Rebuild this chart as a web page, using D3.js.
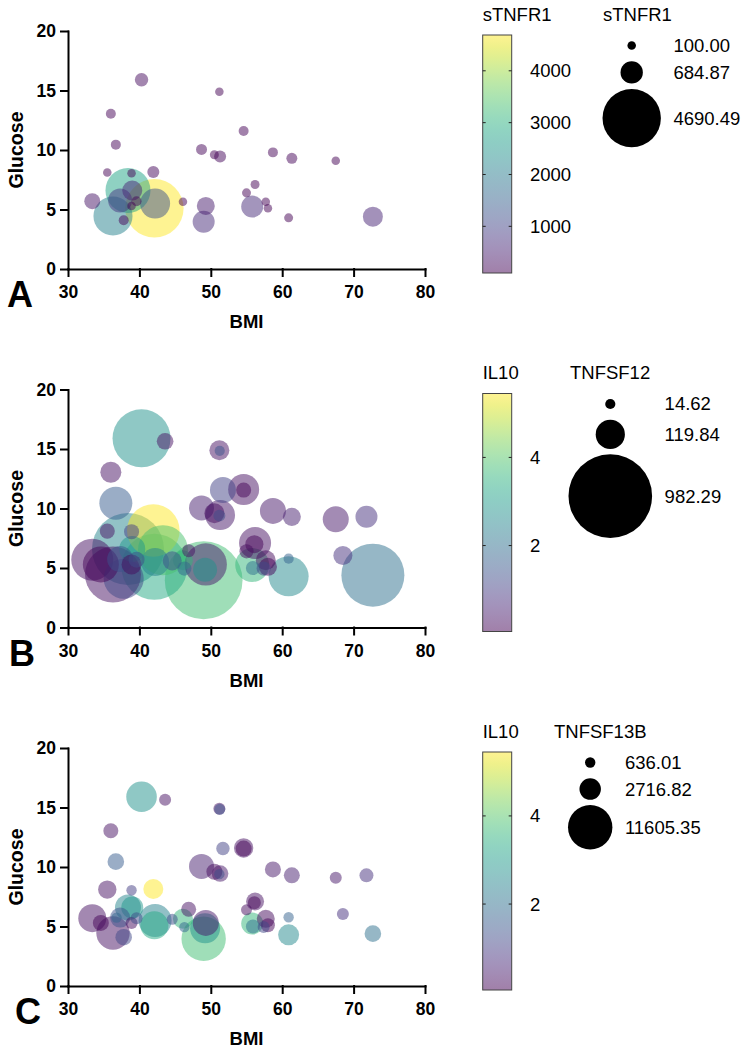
<!DOCTYPE html>
<html><head><meta charset="utf-8">
<script src="https://cdn.jsdelivr.net/npm/d3@7"></script>
<style>
body{margin:0;background:#fff}
svg{display:block}
text{font-family:Arial,"Liberation Sans",Helvetica,sans-serif}
</style>
</head><body>
<svg id="chart" width="750" height="1052"></svg>
<script>
// ---- data (one entry per subject) ----
const bmi      = [40.3,43.6,51.2,51.25,36.0,36.7,51.7,54.6,54.6,48.7,50.5,51.3,51.2,58.7,61.35,67.5,71.8,68.5,72.7,60.9,60.9,35.5,38.9,41.95,33.4,34.6,36.3,37.8,38.4,39.0,38.9,37.3,39.6,42.1,42.2,43.3,44.6,46.3,46.9,46.1,49.3,49.0,49.2,55.0,56.2,56.1,55.8,55.9,57.7,58.0,57.4,36.8];
const glucose  = [15.9,15.65,14.9,14.85,13.05,10.45,11.55,11.6,11.55,10.05,9.6,9.45,9.4,9.8,9.3,9.1,9.3,6.05,4.4,4.3,5.78,8.1,8.05,8.15,5.7,5.3,4.45,4.1,6.6,6.6,5.3,5.75,5.7,5.1,5.5,6.5,5.6,4.95,6.45,5.65,5.3,3.97,4.85,6.4,7.1,7.0,5.25,5.0,5.65,5.1,4.95,5.75];
const sTNFR1   = [247,null,100,null,137,137,null,137,null,166,111,198,null,137,166,100,null,null,550,111,null,100,100,198,352,null,2100,137,2785,550,100,792,137,4690.49,1238,null,null,null,null,100,445,665,null,111,111,null,665,null,100,100,null,null];
const il10     = [2.8,0.3,0.3,1.4,0.3,1.6,1.1,0.3,0.1,0.5,0.2,0.4,1.3,0.4,0.5,0.4,0.8,0.8,2.0,2.6,1.7,0.3,1.0,5.45,0.3,0.1,0.3,1.2,2.5,2.9,0.2,1.4,1.3,3.3,2.4,3.9,1.3,1.8,0.3,3.6,0.4,3.8,2.8,0.2,0.3,0.1,3.6,2.0,0.2,0.1,1.2,1.8];
const tnfsf12  = [473,39,56,14.62,62,153,95,135,32,88,56,126,20,95,46,95,68,51,558,225,14.62,32,32,389,248,182,440,225,728,95,56,95,36,612,110,351,51,28,24,56,250,850,81,28,144,46,162,28,56,46,28,null];
const tnfsf13b = [5513,848,848,712,1325,1622,1057,2215,1507,3680,1507,1622,636.01,1507,1507,848,1154,848,1622,2600,636.01,1990,636.01,2355,4616,1507,6568,1622,3980,2850,848,2355,848,4616,6411,null,712,636.01,1325,2355,3980,11605.35,5300,712,1908,995,2850,1154,1908,1154,848,636.01];

// axis ticks
const xTicks = [30,40,50,60,70,80];
const yTicks = [0,5,10,15,20];

// colour-bar ranges and ticks
const sTNFR1Range = [100, 4690.49];
const il10Range   = [0.05, 5.45];
const sTNFR1ColorTicks = [1000,2000,3000,4000];
const il10ColorTicks   = [2,4];

// bubble-legend values
const sTNFR1SizeLegend   = [100.00, 684.87, 4690.49];
const tnfsf12SizeLegend  = [14.62, 119.84, 982.29];
const tnfsf13bSizeLegend = [636.01, 2716.82, 11605.35];

// ---- panel configuration ----
const panels = [
  {letter:"A", letterX:7,  top:31,    cName:"sTNFR1", cVals:sTNFR1, cDom:sTNFR1Range, cTicks:sTNFR1ColorTicks,
   sName:"sTNFR1",   sVals:sTNFR1,   sLegend:sTNFR1SizeLegend,   rMax:29.2, legLeft:602.5, sTitleX:603},
  {letter:"B", letterX:9,  top:389.5, cName:"IL10",   cVals:il10,   cDom:il10Range,   cTicks:il10ColorTicks,
   sName:"TNFSF12",  sVals:tnfsf12,  sLegend:tnfsf12SizeLegend,  rMax:41.8, legLeft:568.5, sTitleX:570},
  {letter:"C", letterX:15, top:748,   cName:"IL10",   cVals:il10,   cDom:il10Range,   cTicks:il10ColorTicks,
   sName:"TNFSF13B", sVals:tnfsf13b, sLegend:tnfsf13bSizeLegend, rMax:22.2, legLeft:568,   sTitleX:554}
];

const svg = d3.select("#chart");
const plotL = 68, plotR = 425, plotH = 238;
const cbX = 482.7, cbW = 29;

// gradient
const defs = svg.append("defs");
const grad = defs.append("linearGradient").attr("id","vir")
  .attr("x1",0).attr("y1",1).attr("x2",0).attr("y2",0);
d3.range(0,1.0001,0.05).forEach(t=>{
  grad.append("stop").attr("offset",t).attr("stop-color",d3.interpolateViridis(t));
});

panels.forEach(p=>{
  const g = svg.append("g");
  const x = d3.scaleLinear().domain([30,80]).range([plotL,plotR]);
  const y = d3.scaleLinear().domain([0,20]).range([p.top+plotH,p.top]);
  const color = d3.scaleSequential(d3.interpolateViridis).domain(p.cDom);
  const r = d3.scaleSqrt().domain([0,p.sLegend[2]]).range([0,p.rMax]);

  const pts = bmi.map((b,i)=>({b, gl:glucose[i], c:p.cVals[i], s:p.sVals[i]}))
    .filter(d=>d.c!=null && d.s!=null)
    .sort((a,b)=>b.s-a.s);

  g.append("g").selectAll("circle").data(pts).join("circle")
    .attr("cx",d=>x(d.b)).attr("cy",d=>y(d.gl)).attr("r",d=>r(d.s))
    .attr("fill",d=>color(d.c)).attr("fill-opacity",0.5);

  // axes
  const yAxis = g.append("g").attr("transform",`translate(${plotL},0)`)
    .call(d3.axisLeft(y).tickValues(yTicks).tickSize(7).tickPadding(5).tickSizeOuter(0));
  const xAxis = g.append("g").attr("transform",`translate(0,${p.top+plotH})`)
    .call(d3.axisBottom(x).tickValues(xTicks).tickSize(7).tickPadding(10).tickSizeOuter(0));
  [yAxis,xAxis].forEach(a=>{
    a.selectAll("path,line").attr("stroke","#000").attr("stroke-width",2).attr("stroke-linecap","square");
    a.selectAll("text").attr("font-size",17.5).attr("font-weight","bold").attr("fill","#000")
      .style("font-family",'Arial,"Liberation Sans",sans-serif');
  });

  // titles
  g.append("text").attr("transform",`translate(23,${p.top+plotH/2}) rotate(-90)`)
    .attr("text-anchor","middle").attr("font-size",19.5).attr("font-weight","bold").text("Glucose");
  g.append("text").attr("x",(plotL+plotR)/2).attr("y",p.top+plotH+59)
    .attr("text-anchor","middle").attr("font-size",18.5).attr("font-weight","bold").text("BMI");
  g.append("text").attr("x",p.letterX).attr("y",p.top+plotH+38)
    .attr("font-size",36).attr("font-weight","bold").text(p.letter);

  // colour bar
  const cbTop = p.top+4, cbBot = p.top+4+plotH;
  const cy = d3.scaleLinear().domain(p.cDom).range([cbBot,cbTop]);
  g.append("rect").attr("x",cbX).attr("y",cbTop).attr("width",cbW).attr("height",plotH)
    .attr("fill","url(#vir)").attr("fill-opacity",0.5).attr("stroke","#444").attr("stroke-width",1);
  p.cTicks.forEach(t=>{
    g.append("line").attr("x1",cbX).attr("x2",cbX+3).attr("y1",cy(t)).attr("y2",cy(t)).attr("stroke","#222").attr("stroke-width",1);
    g.append("line").attr("x1",cbX+cbW-3).attr("x2",cbX+cbW).attr("y1",cy(t)).attr("y2",cy(t)).attr("stroke","#222").attr("stroke-width",1);
    g.append("text").attr("x",530).attr("y",cy(t)).attr("dy","0.35em").attr("font-size",18.5).text(t);
  });
  g.append("text").attr("x",cbX).attr("y",p.top-10.5).attr("font-size",18.5).text(p.cName);

  // bubble legend
  g.append("text").attr("x",p.sTitleX).attr("y",p.top-10.5).attr("font-size",18.5).text(p.sName);
  const cx = p.legLeft + p.rMax;
  let yCur = cbTop;
  p.sLegend.forEach(v=>{
    const rr = r(v);
    const h = Math.max(2*rr, 21);
    const yc = yCur + h/2;
    g.append("circle").attr("cx",cx).attr("cy",yc).attr("r",rr).attr("fill","#000");
    g.append("text").attr("x",cx+p.rMax+12.5).attr("y",yc).attr("dy","0.35em").attr("font-size",18.5).text(v.toFixed(2));
    yCur += h + 5.3;
  });
});
</script>
</body></html>
